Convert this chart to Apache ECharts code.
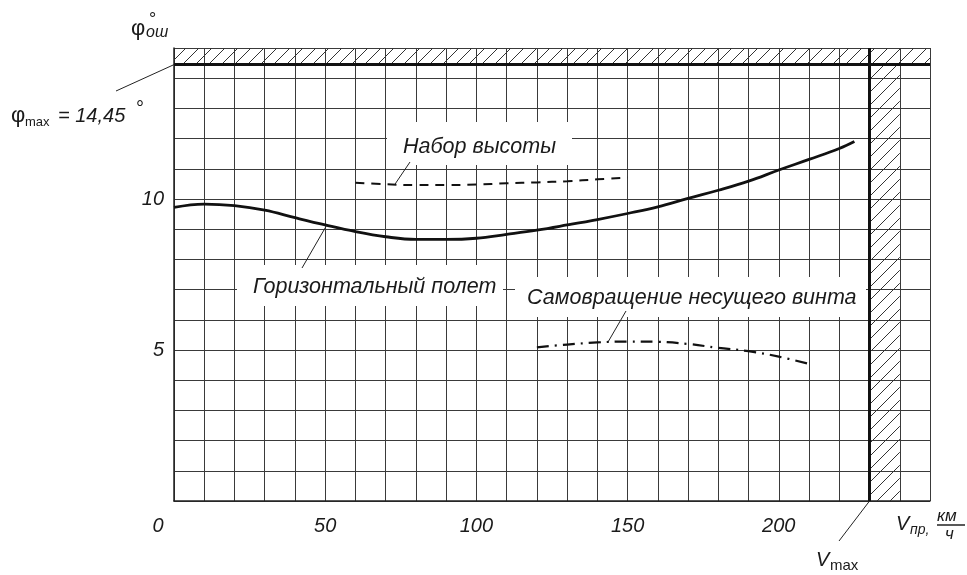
<!DOCTYPE html>
<html lang="ru">
<head>
<meta charset="UTF-8">
<title>Угол отклонения</title>
<script src="https://cdn.jsdelivr.net/npm/echarts@6/dist/echarts.min.js"></script>
<style>
  html, body { margin: 0; padding: 0; background: #fff; }
  #main { width: 967px; height: 575px; }
</style>
</head>
<body>
<div id="main"></div>
<script>
// скорость по прибору, км/ч  /  угол, град
const horizSpeed = [0, 10, 20, 30, 40, 50, 60, 70, 80, 90, 100, 110, 120, 130, 140, 150, 160, 170, 180, 190, 200, 210, 220, 225]
const horizPhi   = [9.72, 9.83, 9.78, 9.63, 9.38, 9.14, 8.92, 8.75, 8.66, 8.66, 8.70, 8.83, 8.97, 9.14, 9.32, 9.52, 9.74, 10.02, 10.29, 10.59, 10.96, 11.31, 11.67, 11.9]

const climbSpeed = [60, 70, 80, 90, 100, 110, 120, 130, 140, 150]
const climbPhi   = [10.54, 10.49, 10.46, 10.46, 10.48, 10.52, 10.55, 10.59, 10.65, 10.71]

const autoSpeed = [120, 130, 140, 150, 160, 170, 180, 190, 200, 210]
const autoPhi   = [5.09, 5.18, 5.25, 5.28, 5.27, 5.20, 5.07, 4.96, 4.78, 4.54]

const xLabels = [0, 50, 100, 150, 200]
const yLabels = [5, 10]

const PHI_MAX = 14.45
const V_MAX = 230
const V_BAND_END = 240   // штриховка за Vmax
const X_MAX = 250
const Y_MAX = 15

const zip = (a, b) => a.map((v, i) => [v, b[i]])

// штриховка
function hatch () {
    const c = document.createElement('canvas')
    c.width = 13; c.height = 13
    const g = c.getContext('2d')
    g.strokeStyle = '#333'
    g.lineWidth = 1
    g.beginPath()
    g.moveTo(0, 13); g.lineTo(13, 0)
    g.moveTo(-2, 2); g.lineTo(2, -2)
    g.moveTo(11, 15); g.lineTo(15, 11)
    g.stroke()
    return c
}
const hatchFill = { image: hatch(), repeat: 'repeat' }

const FONT = '"Liberation Sans", Arial, sans-serif'
const INK = '#1a1a1a'

let chart = echarts.init(document.getElementById('main'))

chart.setOption({
    animation: false,
    grid: { left: 174, right: 37, top: 48, bottom: 74 },
    xAxis: {
        type: 'value', min: 0, max: X_MAX, interval: 10,
        axisLine: { show: true, lineStyle: { color: '#222', width: 1.5 } },
        axisTick: { show: false },
        splitLine: { show: true, lineStyle: { color: '#3a3a3a', width: 1 } },
        axisLabel: {
            margin: 15,
            color: INK, fontSize: 20, fontStyle: 'italic', fontFamily: FONT,
            formatter: v => xLabels.includes(v) ? (v === 0 ? '{z|0}' : String(v)) : '',
            rich: { z: { fontSize: 20, fontStyle: 'italic', fontFamily: FONT, color: INK, padding: [0, 32, 0, 0] } }
        }
    },
    yAxis: {
        type: 'value', min: 0, max: Y_MAX, interval: 1,
        axisLine: { show: true, lineStyle: { color: '#222', width: 1.5 } },
        axisTick: { show: false },
        splitLine: { show: true, lineStyle: { color: '#3a3a3a', width: 1 } },
        axisLabel: {
            margin: 10,
            color: INK, fontSize: 20, fontStyle: 'italic', fontFamily: FONT,
            formatter: v => yLabels.includes(v) ? String(v) : ''
        }
    },
    series: [
        {
            name: 'Горизонтальный полет',
            type: 'line',
            data: zip(horizSpeed, horizPhi),
            smooth: 0.4,
            showSymbol: false,
            lineStyle: { color: '#111', width: 2.8 },
            z: 5,
            markArea: {
                silent: true,
                itemStyle: { color: hatchFill },
                data: [
                    [{ xAxis: 0, yAxis: PHI_MAX }, { xAxis: X_MAX, yAxis: Y_MAX }],
                    [{ xAxis: V_MAX, yAxis: 0 }, { xAxis: V_BAND_END, yAxis: Y_MAX }]
                ]
            },
            markLine: {
                silent: true,
                symbol: 'none',
                label: { show: false },
                lineStyle: { color: '#111', width: 3, type: 'solid' },
                data: [{ yAxis: PHI_MAX }, { xAxis: V_MAX }]
            }
        },
        {
            name: 'Набор высоты',
            type: 'line',
            data: zip(climbSpeed, climbPhi),
            smooth: 0.4,
            showSymbol: false,
            lineStyle: { color: '#111', width: 2, type: [9, 7] },
            z: 5
        },
        {
            name: 'Самовращение несущего винта',
            type: 'line',
            data: zip(autoSpeed, autoPhi),
            smooth: 0.4,
            showSymbol: false,
            lineStyle: { color: '#111', width: 2.2, type: [12, 6, 2, 6] },
            z: 5
        }
    ]
})

// подписи и выноски
const px = p => chart.convertToPixel({ gridIndex: 0 }, p)

function leader (from, to) {
    return { type: 'line', z: 120, silent: true,
        shape: { x1: from[0], y1: from[1], x2: to[0], y2: to[1] },
        style: { stroke: '#222', lineWidth: 1 } }
}
function txt (s, x, y, size, italic, extra) {
    return { type: 'text', z: 121, silent: true,
        style: Object.assign({ text: s, x: x, y: y, fill: INK, font: (italic ? 'italic ' : '') + size + 'px ' + FONT,
            verticalAlign: 'middle' }, extra || {}) }
}
function box (x, y, w, h) {
    return { type: 'rect', z: 110, silent: true, shape: { x: x, y: y, width: w, height: h }, style: { fill: '#fff' } }
}

chart.setOption({
    graphic: [
        box(387, 122, 185, 43),
        box(237, 265, 266, 41),
        box(515, 277, 351, 40),
        txt('Набор высоты', 403, 147, 21.5, true),
        txt('Горизонтальный полет', 253, 287, 21.5, true),
        txt('Самовращение несущего винта', 527, 298, 21.5, true),

        leader([410, 162], px([73, 10.48])),
        leader([302, 268], px([50.5, 9.13])),
        leader([626, 311], px([143.5, 5.26])),
        leader([116, 91], px([0, PHI_MAX])),
        leader([839, 541], px([V_MAX, 0])),

        // ось Y
        txt('φ', 131, 29, 22, false),
        txt('ош', 146, 33, 16, true),
        txt('°', 149, 20, 18, false),

        // φmax = 14,45°
        txt('φ', 11, 116, 22, false),
        txt('max', 25, 122, 13, false),
        txt('= 14,45', 58, 116, 20, true),
        txt('°', 136, 109, 20, false),

        // Vmax
        txt('V', 816, 560, 20, true),
        txt('max', 830, 566, 15, false),

        // Vпр, км/ч
        txt('V', 896, 524, 20, true),
        txt('пр,', 910, 530, 14, true),
        txt('км', 937, 516, 17, true),
        { type: 'line', z: 121, silent: true, shape: { x1: 937, y1: 525, x2: 965, y2: 525 }, style: { stroke: '#222', lineWidth: 1.5 } },
        txt('ч', 945, 534, 17, true)
    ]
})
</script>
</body>
</html>
